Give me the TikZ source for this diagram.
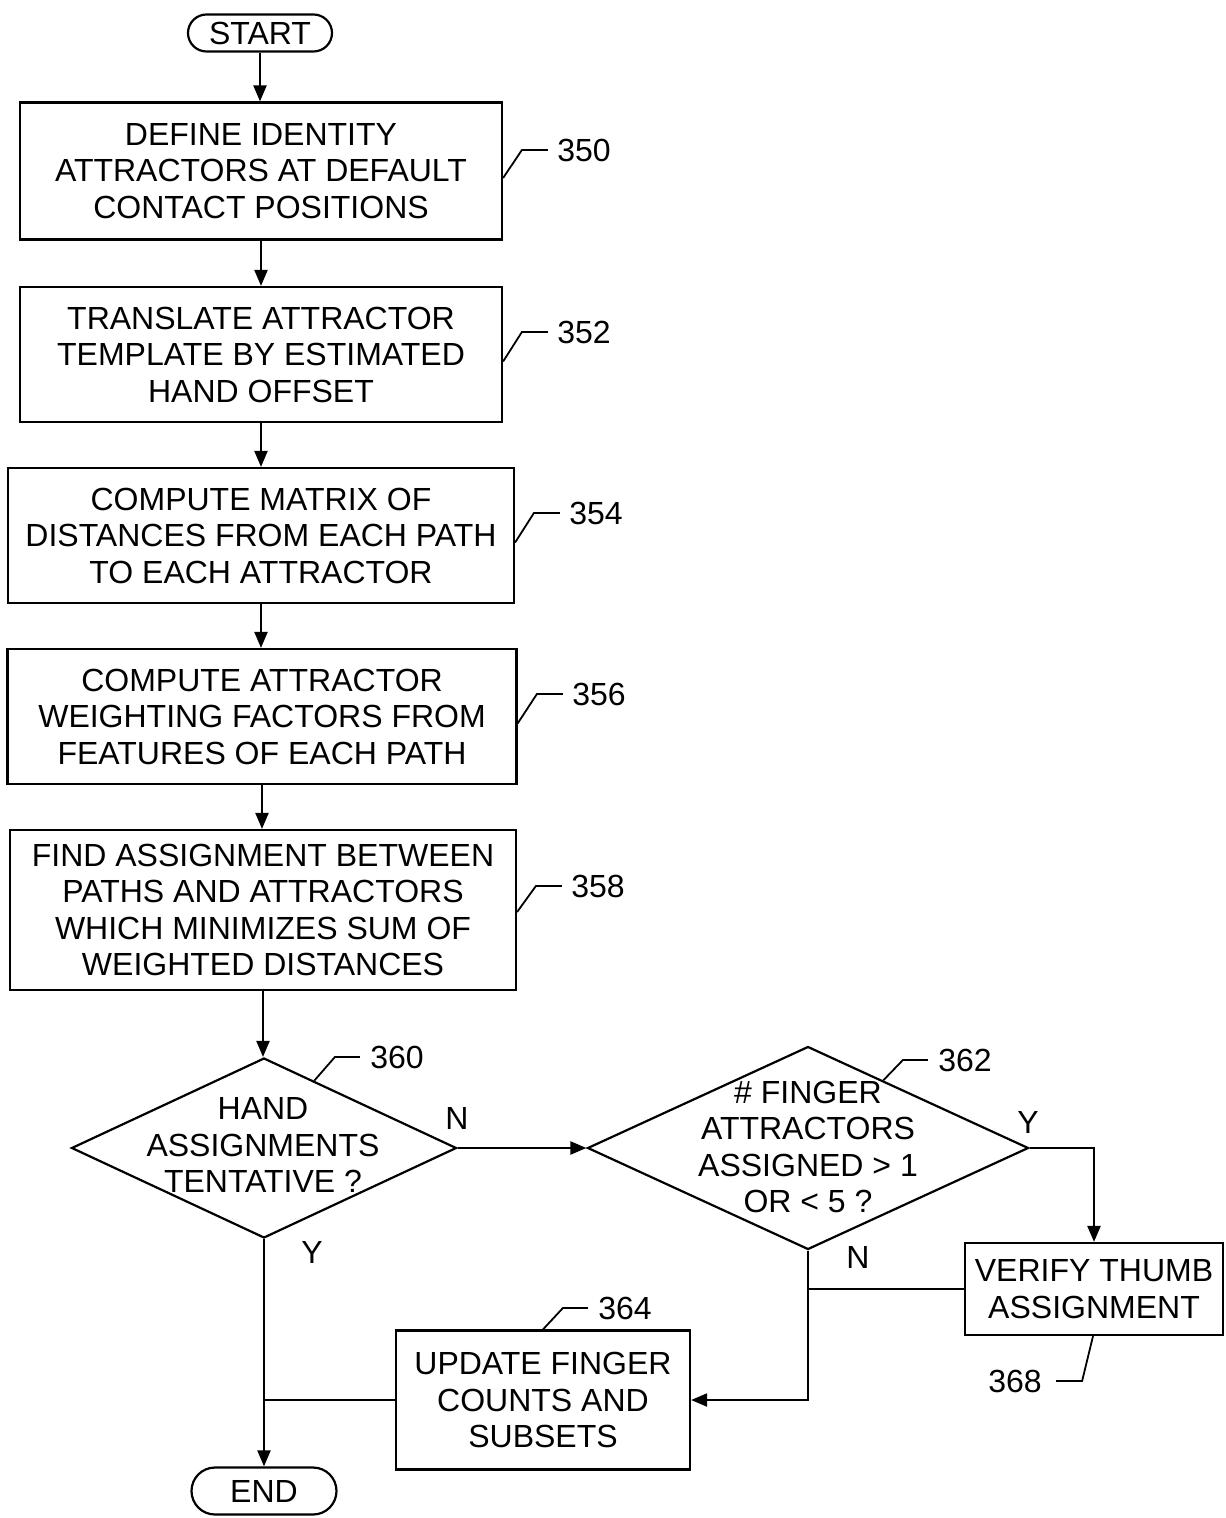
\documentclass[tikz,border=0pt]{standalone}
\usepackage{fontspec}
\setmainfont{Liberation Sans}
\usetikzlibrary{arrows.meta,shapes.geometric,calc}
\begin{document}
\begin{tikzpicture}[x=0.5pt,y=-0.5pt,
  every node/.style={font=\fontsize{16}{18.25}\selectfont},
  box/.style={draw, line width=1.1pt, align=center, inner sep=0pt},
  term/.style={draw, line width=1.1pt, inner sep=0pt},
  dia/.style={draw, diamond, line width=1.1pt, inner sep=0pt},
  txt/.style={align=center, inner sep=0pt},
  flow/.style={line width=1.1pt, -{Triangle[length=8pt,width=6.5pt]}},
  plain/.style={line width=1.1pt},
  lead/.style={line width=0.9pt},
  num/.style={inner sep=0pt}
]
\useasboundingbox (0,0) rectangle (1225,1518);

% terminals
\node[term, rounded corners=9.25pt, minimum width=72pt, minimum height=18.5pt] (start) at (260,33) {START};
\node[term, rounded corners=11.75pt, minimum width=72.5pt, minimum height=23.5pt] (end) at (264,1491) {END};

% process boxes
\node[box, minimum width=241pt, minimum height=68.5pt] (b350) at (261,171) {DEFINE IDENTITY\\ATTRACTORS AT DEFAULT\\CONTACT POSITIONS};
\node[box, minimum width=241pt, minimum height=67.5pt] (b352) at (261,354.5) {TRANSLATE ATTRACTOR\\TEMPLATE BY ESTIMATED\\HAND OFFSET};
\node[box, minimum width=253pt, minimum height=67.5pt] (b354) at (261,535.5) {COMPUTE MATRIX OF\\DISTANCES FROM EACH PATH\\TO EACH ATTRACTOR};
\node[box, minimum width=254.5pt, minimum height=67.5pt] (b356) at (262,716.5) {COMPUTE ATTRACTOR\\WEIGHTING FACTORS FROM\\FEATURES OF EACH PATH};
\node[box, minimum width=253pt, minimum height=80pt] (b358) at (263,910) {FIND ASSIGNMENT BETWEEN\\PATHS AND ATTRACTORS\\WHICH MINIMIZES SUM OF\\WEIGHTED DISTANCES};
\node[box, minimum width=129pt, minimum height=46pt] (b368) at (1094,1289) {VERIFY THUMB\\ASSIGNMENT};
\node[box, minimum width=147pt, minimum height=69.5pt] (b364) at (543,1400) {UPDATE FINGER\\COUNTS AND\\SUBSETS};

% decisions
\node[dia, minimum width=192.5pt, minimum height=90pt] (d360) at (264,1148) {};
\node[txt] (t360) at (263,1145) {HAND\\ASSIGNMENTS\\TENTATIVE ?};
\node[dia, minimum width=220.5pt, minimum height=101.5pt] (d362) at (808,1148) {};
\node[txt] (t362) at (808,1147) {\# FINGER\\ATTRACTORS\\ASSIGNED > 1\\OR < 5 ?};

% reference numerals
\node[num] (n350) at (584,150) {350};
\node[num] (n352) at (584,332) {352};
\node[num] (n354) at (596,513) {354};
\node[num] (n356) at (599,694) {356};
\node[num] (n358) at (598,886) {358};
\node[num] (n360) at (397,1057) {360};
\node[num] (n362) at (965,1060) {362};
\node[num] (n364) at (625,1308) {364};
\node[num] (n368) at (1015,1381) {368};

% branch labels
\node[num] (lN1) at (457,1118) {N};
\node[num] (lY1) at (312,1252) {Y};
\node[num] (lY2) at (1028,1122) {Y};
\node[num] (lN2) at (858,1257) {N};

% leaders
\draw[lead] ([yshift=-3.5pt]b350.east) -- ([xshift=-17.5pt]n350.west) -- ([xshift=-4.5pt]n350.west);
\draw[lead] ([yshift=-3.5pt]b352.east) -- ([xshift=-17.5pt]n352.west) -- ([xshift=-4.5pt]n352.west);
\draw[lead] ([yshift=-3.5pt]b354.east) -- ([xshift=-17.5pt]n354.west) -- ([xshift=-4.5pt]n354.west);
\draw[lead] ([yshift=-3.5pt]b356.east) -- ([xshift=-17.5pt]n356.west) -- ([xshift=-4.5pt]n356.west);
\draw[lead] ([yshift=-1pt]b358.east) -- ([xshift=-17.5pt]n358.west) -- ([xshift=-4.5pt]n358.west);
\draw[lead] ($(d360.north)!0.26!(d360.east)$) -- ([xshift=-17.5pt]n360.west) -- ([xshift=-5pt]n360.west);
\draw[lead] ($(d362.north)!0.34!(d362.east)$) -- ([xshift=-17.5pt]n362.west) -- ([xshift=-5pt]n362.west);
\draw[lead] (b364.north) -- ([xshift=-17.5pt]n364.west) -- ([xshift=-5pt]n364.west);
\draw[lead] ([xshift=-0.5pt]b368.south) -- ([xshift=20pt]n368.east) -- ([xshift=7pt]n368.east);

% flow
\draw[flow] (start.south) -- (start.south |- b350.north);
\draw[flow] (b350.south) -- (b350.south |- b352.north);
\draw[flow] (b352.south) -- (b352.south |- b354.north);
\draw[flow] (b354.south) -- (b354.south |- b356.north);
\draw[flow] (b356.south) -- (b356.south |- b358.north);
\draw[flow] (b358.south) -- (b358.south |- d360.north);
\draw[flow] (d360.east) -- (d362.west);
\draw[flow] (d362.east) -| (b368.north);
\draw[flow] (d362.south) |- (b364.east);
\draw[plain] (b368.west) -- (d362.south |- b368.west);
\draw[flow] (d360.south) -- (d360.south |- end.north);
\draw[plain] (b364.west) -- (d360.south |- b364.west);
\end{tikzpicture}
\end{document}
